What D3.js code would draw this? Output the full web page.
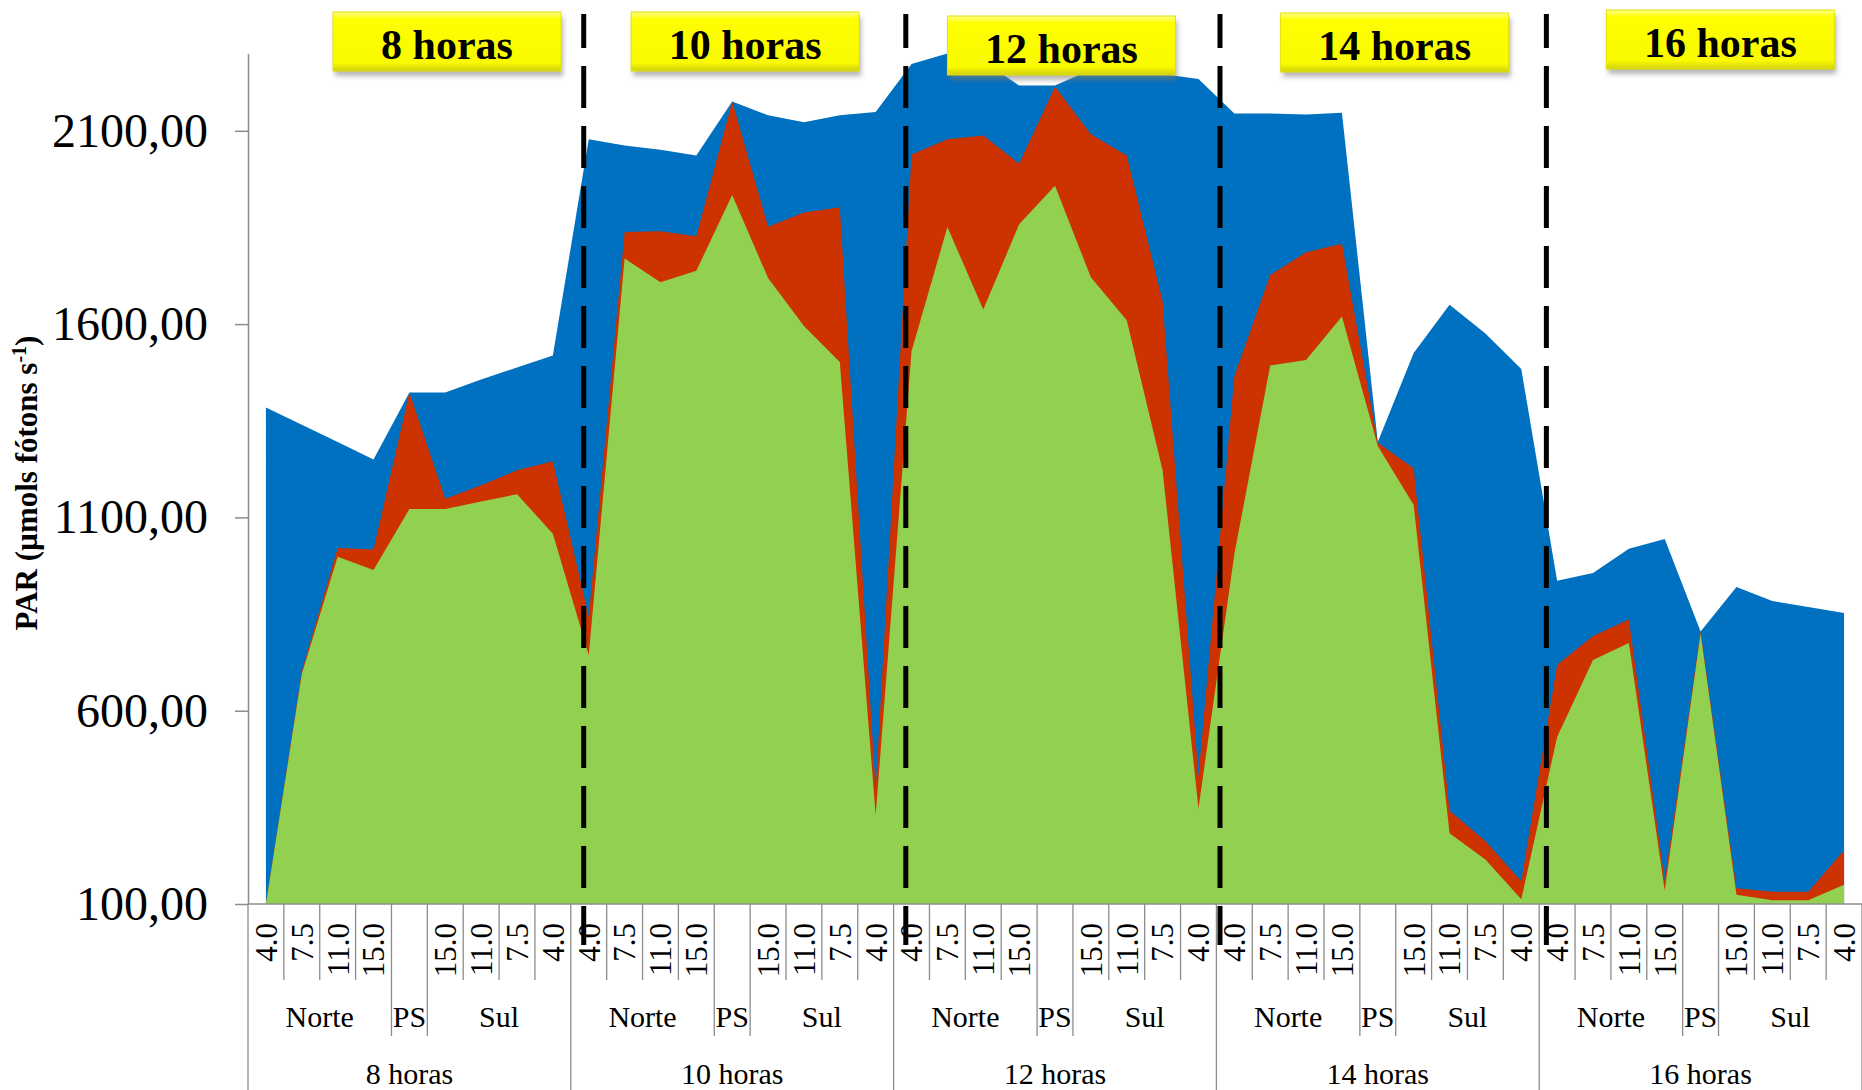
<!DOCTYPE html>
<html>
<head>
<meta charset="utf-8">
<script src="https://cdn.jsdelivr.net/npm/d3@7"></script>
<style>
  body { margin: 0; background: #fff; }
  svg text { font-family: "Liberation Serif", "Times New Roman", serif; fill: #000; }
</style>
</head>
<body>
<div id="chart"></div>
<script>
// Categories
const hours = ["8 horas", "10 horas", "12 horas", "14 horas", "16 horas"];
const positions = ["4.0", "7.5", "11.0", "15.0", "", "15.0", "11.0", "7.5", "4.0"];
const sides = ["Norte", "PS", "Sul"];
const sideSpans = [[0, 4], [4, 5], [5, 9]];
const yTicks = [100, 600, 1100, 1600, 2100];

// Series values, 9 per hour (Norte 4.0 -> 15.0, PS, Sul 15.0 -> 4.0)
const blueValues = [
  1384, 1340, 1295, 1250, 1423, 1423, 1457, 1488, 1519,
  2078, 2062, 2051, 2036, 2176, 2140, 2122, 2140, 2149,
  2273, 2300, 2280, 2217, 2217, 2258, 2252, 2247, 2234,
  2145, 2145, 2142, 2147, 1295, 1525, 1650, 1576, 1484,
  936, 956, 1019, 1044, 805, 920, 884, 868, 853
];
const redValues = [
  100, 702, 1021, 1017, 1423, 1148, 1183, 1222, 1245,
  843, 1838, 1840, 1827, 2176, 1852, 1889, 1902, 395,
  2039, 2078, 2088, 2015, 2214, 2091, 2036, 1659, 429,
  1465, 1727, 1786, 1808, 1293, 1227, 341, 263, 159,
  719, 793, 836, 160, 805, 141, 132, 132, 239
];
const greenValues = [
  100, 695, 998, 964, 1122, 1122, 1141, 1160, 1058,
  744, 1770, 1708, 1738, 1934, 1719, 1595, 1502, 330,
  1530, 1851, 1638, 1858, 1958, 1721, 1610, 1222, 347,
  1005, 1493, 1507, 1620, 1285, 1132, 283, 215, 112,
  532, 731, 775, 135, 800, 124, 110, 110, 150
];

// Annotations: dashed separators and hour boxes (in category units)
const dashedAt = [9.36, 18.34, 27.1, 36.2];
const boxCenters = [5.55, 13.86, 22.68, 31.97, 41.05];
const boxTops = [12, 12, 16, 13, 10];

const W = 1862, H = 1090;
const plot = {left: 248, right: 1862, top: 53.5, bottom: 904};

const svg = d3.select("#chart").append("svg")
    .attr("width", W)
    .attr("height", H);

const defs = svg.append("defs");
const grad = defs.append("linearGradient")
    .attr("id", "boxGrad").attr("x1", 0).attr("y1", 0).attr("x2", 0).attr("y2", 1);
grad.append("stop").attr("offset", "0%").attr("stop-color", "#ffff8a");
grad.append("stop").attr("offset", "12%").attr("stop-color", "#ffff00");
grad.append("stop").attr("offset", "86%").attr("stop-color", "#fafa00");
grad.append("stop").attr("offset", "100%").attr("stop-color", "#cfcf10");
const blur = defs.append("filter").attr("id", "shadow")
    .attr("x", "-10%").attr("y", "-20%").attr("width", "130%").attr("height", "160%");
blur.append("feGaussianBlur").attr("stdDeviation", 2.5);

const n = hours.length * positions.length;
const x = d3.scaleBand()
    .domain(d3.range(n))
    .range([plot.left, plot.right]);
const y = d3.scaleLinear()
    .domain([100, 2300])
    .range([plot.bottom, plot.top]);

const cx = i => x(i) + x.bandwidth() / 2;
const atUnit = u => plot.left + u * x.bandwidth();

const area = d3.area()
    .x((d, i) => cx(i))
    .y0(y(100))
    .y1(d => y(d));

// Areas: blue behind, then red, then green in front
const series = [
  {values: blueValues, color: "#0070c0"},
  {values: redValues, color: "#cc3300"},
  {values: greenValues, color: "#92d050"}
];
svg.append("g")
    .selectAll("path")
    .data(series)
    .enter()
    .append("path")
    .attr("d", d => area(d.values))
    .attr("fill", d => d.color);

// Y axis
const yAxis = svg.append("g")
    .attr("transform", `translate(${plot.left},0)`)
    .call(d3.axisLeft(y)
        .tickValues(yTicks)
        .tickSize(13)
        .tickSizeOuter(0)
        .tickPadding(27)
        .tickFormat(d => d3.format(".2f")(d).replace(".", ",")));
yAxis.select(".domain").attr("stroke", "#8c8c8c").attr("stroke-width", 1.5);
yAxis.selectAll(".tick line").attr("stroke", "#8c8c8c").attr("stroke-width", 1.5);
yAxis.selectAll(".tick text")
    .attr("font-family", "Liberation Serif")
    .attr("font-size", 48)
    .attr("fill", "#000");

// Y title
const title = svg.append("text")
    .attr("transform", `translate(37,483) rotate(-90)`)
    .attr("text-anchor", "middle")
    .attr("font-size", 31)
    .attr("font-weight", "bold");
title.append("tspan").text("PAR (µmols fótons s");
title.append("tspan").attr("dy", -11).attr("font-size", 20).text("-1");
title.append("tspan").attr("dy", 11).text(")");

// X axis (multi-level category axis)
const xa = svg.append("g");
xa.append("line")
    .attr("x1", plot.left).attr("x2", plot.right)
    .attr("y1", y(100)).attr("y2", y(100))
    .attr("stroke", "#8c8c8c").attr("stroke-width", 1.5);

const bounds = d3.range(n + 1);
xa.selectAll("line.sep")
    .data(bounds)
    .enter()
    .append("line")
    .attr("class", "sep")
    .attr("x1", b => b < n ? x(b) : plot.right)
    .attr("x2", b => b < n ? x(b) : plot.right)
    .attr("y1", y(100))
    .attr("y2", b => {
      const k = b % positions.length;
      if (k === 0) return H;
      if (k === 4 || k === 5) return 1036;
      return 980;
    })
    .attr("stroke", "#8c8c8c")
    .attr("stroke-width", 1.3);

const cats = d3.range(n).map(i => ({i, label: positions[i % positions.length]}));
xa.selectAll("text.cat")
    .data(cats)
    .enter()
    .append("text")
    .attr("class", "cat")
    .attr("transform", d => `translate(${cx(d.i)},923) rotate(-90)`)
    .attr("text-anchor", "end")
    .attr("dy", "0.35em")
    .attr("font-size", 31)
    .text(d => d.label);

const sideLabels = [];
hours.forEach((h, hi) => {
  sides.forEach((s, si) => {
    const a = hi * positions.length + sideSpans[si][0];
    const b = hi * positions.length + sideSpans[si][1];
    sideLabels.push({text: s, mid: (x(a) + x(b - 1) + x.bandwidth()) / 2});
  });
});
xa.selectAll("text.side")
    .data(sideLabels)
    .enter()
    .append("text")
    .attr("class", "side")
    .attr("x", d => d.mid)
    .attr("y", 1027)
    .attr("text-anchor", "middle")
    .attr("font-size", 30)
    .text(d => d.text);

xa.selectAll("text.hour")
    .data(hours)
    .enter()
    .append("text")
    .attr("class", "hour")
    .attr("x", (d, i) => (x(i * 9) + x(i * 9 + 8) + x.bandwidth()) / 2)
    .attr("y", 1084)
    .attr("text-anchor", "middle")
    .attr("font-size", 30)
    .text(d => d);

// Dashed separators
svg.append("g")
    .selectAll("line")
    .data(dashedAt)
    .enter()
    .append("line")
    .attr("x1", d => atUnit(d))
    .attr("x2", d => atUnit(d))
    .attr("y1", 14)
    .attr("y2", 945)
    .attr("stroke", "#000")
    .attr("stroke-width", 5)
    .attr("stroke-dasharray", "42,18")
    .attr("stroke-dashoffset", 8);

// Hour boxes
const boxW = 228, boxH = 59;
const boxes = svg.append("g")
    .selectAll("g")
    .data(hours)
    .enter()
    .append("g")
    .attr("transform", (d, i) => `translate(${atUnit(boxCenters[i]) - boxW / 2},${boxTops[i]})`);
boxes.append("rect")
    .attr("x", 2).attr("y", 5)
    .attr("width", boxW).attr("height", boxH)
    .attr("fill", "#7a7a7a")
    .attr("opacity", 0.55)
    .attr("filter", "url(#shadow)");
boxes.append("rect")
    .attr("width", boxW).attr("height", boxH)
    .attr("fill", "url(#boxGrad)")
    .attr("stroke", "#e2e200")
    .attr("stroke-width", 1);
boxes.append("text")
    .attr("x", boxW / 2)
    .attr("y", 47)
    .attr("text-anchor", "middle")
    .attr("font-size", 42)
    .attr("font-weight", "bold")
    .text(d => d);
</script>
</body>
</html>
